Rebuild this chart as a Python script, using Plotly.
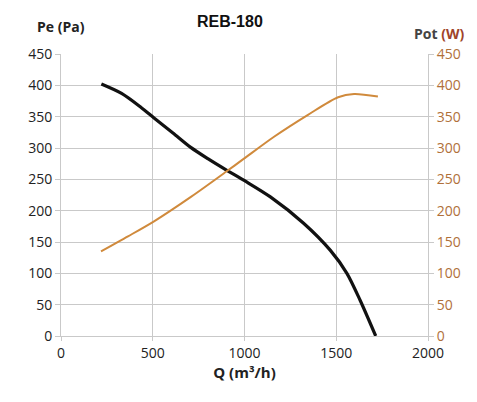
import plotly.graph_objects as go

# Pressure curve (black)
q_pe = [220, 330, 435, 507, 610, 707, 800, 906, 1005, 1141, 1322, 1467, 1558, 1630, 1715]
pe = [402, 387, 365, 348, 324, 301, 283, 264, 247, 222, 180, 137, 100, 57, 0]

# Power curve (orange)
q_pot = [218, 365, 507, 708, 899, 997, 1161, 1346, 1510, 1597, 1727]
pot = [135, 159, 183, 222, 262, 283, 318, 353, 381, 386, 382]

x_ticks = [0, 500, 1000, 1500, 2000]
y_ticks = [0, 50, 100, 150, 200, 250, 300, 350, 400, 450]

fig = go.Figure()
fig.add_trace(go.Scatter(
    x=q_pe, y=pe, mode="lines",
    line=dict(color="#111111", width=3.2, shape="spline", smoothing=0.8),
    showlegend=False,
))
fig.add_trace(go.Scatter(
    x=q_pot, y=pot, mode="lines", yaxis="y2",
    line=dict(color="#D08A3C", width=2, shape="spline", smoothing=0.8),
    showlegend=False,
))

grid = "#c9c9c9"
# the page adds an 8px offset, margins are shifted to compensate
fig.update_layout(
    width=477, height=402,
    margin=dict(l=53, r=57, t=46, b=74),
    paper_bgcolor="white", plot_bgcolor="white",
    font=dict(family="Open Sans, sans-serif", size=14, color="#222222"),
    xaxis=dict(
        range=[0, 2000], tickvals=x_ticks, showgrid=True, gridcolor=grid,
        gridwidth=1, zeroline=False, showline=True, linecolor=grid,
        ticks="outside", ticklen=4, tickcolor=grid,
        title=dict(text="<b>Q (m³/h)</b>", font=dict(size=15, color="#222222"), standoff=6),
    ),
    yaxis=dict(
        range=[0, 450], tickvals=y_ticks, showgrid=True, gridcolor=grid,
        zeroline=False, showline=True, linecolor=grid,
        ticks="outside", ticklen=5, tickcolor=grid,
    ),
    yaxis2=dict(
        range=[0, 450], tickvals=y_ticks, overlaying="y", side="right",
        showgrid=False, zeroline=False, showline=True, linecolor=grid,
        ticks="outside", ticklen=5, tickcolor=grid,
        tickfont=dict(color="#B0703A"),
    ),
    annotations=[
        dict(text="<b>REB-180</b>", x=0.46, y=1.0, xref="paper", yref="paper",
             xanchor="center", yanchor="bottom", yshift=22, showarrow=False,
             font=dict(family="Liberation Sans, Arial", size=16, color="#111111")),
        dict(text="<b>Pe (Pa)</b>", x=0.0, y=1.0, xref="paper", yref="paper",
             xanchor="center", yanchor="bottom", yshift=16, showarrow=False,
             font=dict(size=14, color="#222222")),
        dict(text="<b><span style='color:#444444'>Pot</span> <span style='color:#A0442A'>(W)</span></b>",
             x=1.03, y=1.0, xref="paper", yref="paper",
             xanchor="center", yanchor="bottom", yshift=9, showarrow=False,
             font=dict(size=14)),
    ],
)

fig.write_html("out.html")
